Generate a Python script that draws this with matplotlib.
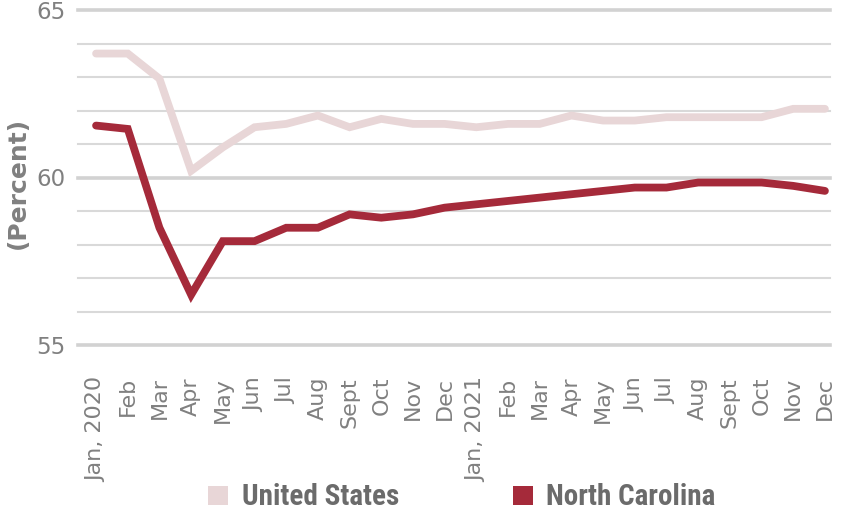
import matplotlib
matplotlib.use("Agg")
import matplotlib.pyplot as plt
from matplotlib.patches import Rectangle
from matplotlib import font_manager

months = ["Jan, 2020", "Feb", "Mar", "Apr", "May", "Jun", "Jul", "Aug", "Sept", "Oct", "Nov", "Dec",
          "Jan, 2021", "Feb", "Mar", "Apr", "May", "Jun", "Jul", "Aug", "Sept", "Oct", "Nov", "Dec"]
us = [63.7, 63.7, 62.95, 60.2, 60.9, 61.5, 61.6, 61.85, 61.5, 61.75, 61.6, 61.6,
      61.5, 61.6, 61.6, 61.85, 61.7, 61.7, 61.8, 61.8, 61.8, 61.8, 62.05, 62.05]
nc = [61.55, 61.45, 58.5, 56.5, 58.1, 58.1, 58.5, 58.5, 58.9, 58.8, 58.9, 59.1,
      59.2, 59.3, 59.4, 59.5, 59.6, 59.7, 59.7, 59.85, 59.85, 59.85, 59.75, 59.6]
yticks = [55, 60, 65]
series_names = ["United States", "North Carolina"]

US_COL = "#e8d6d7"
NC_COL = "#a52a3a"
GRAY = "#808080"

avail = {f.name for f in font_manager.fontManager.ttflist}
tick_font = ["DejaVu Sans"]
leg_font = [f for f in ["Liberation Sans Narrow", "Roboto Condensed", "Roboto", "DejaVu Sans"] if f in avail]

fig = plt.figure(figsize=(8.44, 5.13), dpi=100)
ax = fig.add_axes([78 / 844, 1 - 345 / 513, (830 - 78) / 844, (345 - 10) / 513])

x = list(range(len(months)))
ax.set_xlim(-0.57, 23.16)
ax.set_ylim(55, 65)

for v in range(55, 66):
    major = v in yticks
    ax.axhline(v, color="#d2d2d2" if major else "#d9d9d9", lw=2.6 if major else 1.5,
               zorder=1, clip_on=False)

ax.plot(x, us, color=US_COL, lw=5.6, solid_capstyle="round", solid_joinstyle="miter", zorder=3)
ax.plot(x, nc, color=NC_COL, lw=5.6, solid_capstyle="round", solid_joinstyle="miter", zorder=4)

for s in ax.spines.values():
    s.set_visible(False)
ax.set_yticks(yticks)
ax.set_yticklabels([str(t) for t in yticks], fontsize=16.5, color=GRAY, family=tick_font)
ax.set_xticks(x)
ax.set_xticklabels(months, rotation=90, fontsize=16, color=GRAY, family=tick_font, va="top")
ax.tick_params(axis="both", length=0)
ax.tick_params(axis="x", pad=23)
ax.tick_params(axis="y", pad=9)

fig.text(18 / 844, 1 - 183 / 513, "(Percent)", rotation=90, ha="center", va="center",
         fontsize=18, fontweight="bold", color=GRAY, family=tick_font)

# legend
sq_y = 1 - 505 / 513
sq_h = 19 / 513
sq_w = 20 / 844
for x0, tx, name, col in [(208, 242, series_names[0], US_COL), (513, 546, series_names[1], NC_COL)]:
    fig.patches.append(Rectangle((x0 / 844, sq_y), sq_w, sq_h, transform=fig.transFigure,
                                 facecolor=col, edgecolor="none"))
    fig.text(tx / 844, 1 - 497 / 513, name, ha="left", va="center", fontsize=21,
             fontweight="bold", color="#6b6b6b", family=leg_font)

fig.savefig("out.png", dpi=100)
